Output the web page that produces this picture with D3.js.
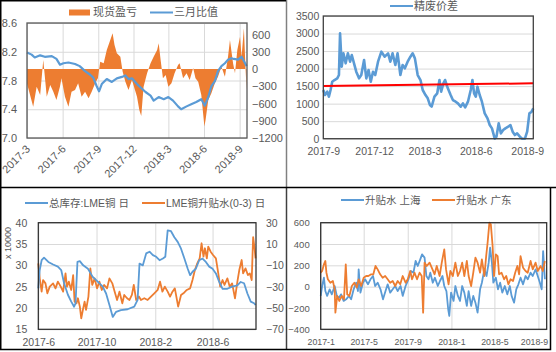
<!DOCTYPE html>
<html>
<head>
<meta charset="utf-8">
<script src="https://cdn.jsdelivr.net/npm/d3@7"></script>
<style>
body { margin: 0; background: #fff; }
svg text { font-family: "Liberation Sans", "Noto Sans CJK SC", sans-serif; fill: #595959; }
.axis path, .axis line { display: none; }
.grid path { display: none; }
.grid line { stroke: #d9d9d9; stroke-width: 1; }
</style>
</head>
<body>
<script>
var width = 556,
  height = 352;

var blue = "#5b9bd5",
  orange = "#ed7d31";

// ---- panel 1: 现货盈亏 / 三月比值
var p1Ticks = ["2017-3", "2017-6", "2017-9", "2017-12", "2018-3", "2018-6", "2018-9"];
var p1LeftTicks = [7.0, 7.4, 7.8, 8.2, 8.6];
var p1RightTicks = [-1200, -900, -600, -300, 0, 300, 600];
var p1Profit = [["2017-03-01",-250],["2017-03-17",-655],["2017-03-26",-307],["2017-04-04",-452],["2017-04-12",157],["2017-04-21",-481],["2017-04-30",-278],["2017-05-08",-394],["2017-05-16",-539],["2017-05-25",-307],["2017-05-29",-162],["2017-06-07",-481],["2017-06-16",-655],["2017-06-24",-394],["2017-07-03",-365],["2017-07-11",-249],["2017-07-20",-481],["2017-07-29",-394],["2017-08-07",-510],["2017-08-15",-394],["2017-08-24",-249],["2017-08-31",-162],["2017-09-06",128],["2017-09-15",99],["2017-09-23",330],["2017-10-02",504],["2017-10-08",620],["2017-10-13",418],["2017-10-19",273],["2017-10-28",215],["2017-11-03",-46],["2017-11-10",-220],["2017-11-18",-365],["2017-11-27",-191],["2017-12-10",-481],["2017-12-16",-713],["2017-12-21",-818],["2017-12-27",-307],["2018-01-05",-75],["2018-01-14",99],["2018-01-22",215],["2018-01-31",330],["2018-02-04",447],["2018-02-09",157],["2018-02-15",-162],["2018-02-22",-104],["2018-03-01",-307],["2018-03-09",-249],["2018-03-17",-75],["2018-03-26",70],["2018-03-30",99],["2018-04-08",-162],["2018-04-17",-75],["2018-04-25",-191],["2018-05-04",17],["2018-05-10",-162],["2018-05-17",-220],["2018-05-25",-452],["2018-06-02",-1000],["2018-06-05",-887],["2018-06-12",-539],["2018-06-20",-423],["2018-06-29",-249],["2018-07-07",-133],["2018-07-16",41],["2018-07-25",-133],["2018-08-02",215],["2018-08-07",504],["2018-08-11",302],["2018-08-15",99],["2018-08-20",-75],["2018-08-26",330],["2018-09-02",560],["2018-09-06",215],["2018-09-12",710],["2018-09-16",40],["2018-09-19",-365]];
var p1Ratio = [["2017-03-01",8.19],["2017-03-13",8.16],["2017-03-21",8.12],["2017-04-04",8.15],["2017-04-16",8.13],["2017-05-04",8.14],["2017-05-16",8.10],["2017-05-25",8.02],["2017-06-03",8.04],["2017-06-16",8.05],["2017-07-03",8.03],["2017-07-15",8.00],["2017-07-29",7.93],["2017-08-11",7.88],["2017-08-19",7.84],["2017-08-28",7.72],["2017-09-03",7.65],["2017-09-10",7.75],["2017-09-23",7.82],["2017-10-06",7.78],["2017-10-19",7.83],["2017-11-01",7.85],["2017-11-10",7.87],["2017-11-18",7.82],["2017-11-27",7.83],["2017-12-10",7.75],["2017-12-18",7.71],["2018-01-01",7.64],["2018-01-14",7.59],["2018-01-22",7.52],["2018-02-04",7.57],["2018-02-17",7.54],["2018-03-01",7.57],["2018-03-13",7.52],["2018-03-26",7.44],["2018-04-03",7.40],["2018-04-17",7.44],["2018-04-29",7.47],["2018-05-12",7.50],["2018-05-25",7.54],["2018-06-03",7.45],["2018-06-12",7.57],["2018-06-20",7.72],["2018-06-29",7.79],["2018-07-07",7.93],["2018-07-16",8.00],["2018-07-25",8.04],["2018-08-02",8.09],["2018-08-11",8.11],["2018-08-17",8.10],["2018-08-28",8.09],["2018-09-06",8.13],["2018-09-13",8.06],["2018-09-19",8.00]];

// ---- panel 2: 精废价差
var p2Ticks = ["2017-9", "2017-12", "2018-3", "2018-6", "2018-9"];
var p2YTicks = [0, 500, 1000, 1500, 2000, 2500, 3000, 3500];
var p2Spread = [["2017-09-01",1389],["2017-09-04",1246],["2017-09-08",1341],["2017-09-11",1198],["2017-09-14",1389],["2017-09-17",1626],["2017-09-21",1674],["2017-09-26",1721],["2017-09-29",1816],["2017-10-01",3005],["2017-10-04",2054],["2017-10-07",2435],["2017-10-11",2150],["2017-10-15",2435],["2017-10-19",2197],["2017-10-22",2387],["2017-10-26",2150],["2017-10-30",1911],["2017-11-04",1721],["2017-11-08",1816],["2017-11-13",2245],["2017-11-17",1721],["2017-11-21",1959],["2017-11-25",1626],["2017-11-29",1911],["2017-12-03",1816],["2017-12-08",2197],["2017-12-14",2482],["2017-12-20",2340],["2017-12-26",2435],["2017-12-30",2197],["2018-01-03",2435],["2018-01-08",2102],["2018-01-12",2435],["2018-01-17",1816],["2018-01-21",2102],["2018-01-25",2007],["2018-01-30",2197],["2018-02-04",2340],["2018-02-08",2435],["2018-02-12",2292],["2018-02-17",1816],["2018-02-22",1674],["2018-02-26",1389],["2018-03-03",1246],["2018-03-07",1151],["2018-03-11",960],["2018-03-14",913],["2018-03-19",1198],["2018-03-24",1294],["2018-03-28",1674],["2018-03-31",1341],["2018-04-04",1579],["2018-04-07",1674],["2018-04-12",1436],["2018-04-17",1246],["2018-04-21",1103],["2018-04-26",1056],["2018-04-30",1008],["2018-05-05",913],["2018-05-09",1008],["2018-05-13",894],["2018-05-18",1056],["2018-05-23",1389],["2018-05-26",1674],["2018-05-29",1294],["2018-06-01",1198],["2018-06-04",1484],["2018-06-08",1246],["2018-06-12",1056],["2018-06-17",723],["2018-06-22",580],["2018-06-26",390],["2018-06-30",295],["2018-07-05",0],["2018-07-08",57],["2018-07-12",437],["2018-07-16",152],["2018-07-20",247],["2018-07-24",295],["2018-07-29",342],["2018-08-02",390],["2018-08-06",200],["2018-08-10",105],["2018-08-14",152],["2018-08-19",57],["2018-08-23",0],["2018-08-28",0],["2018-09-01",200],["2018-09-05",723],["2018-09-09",770],["2018-09-12",865]];
var p2Trend = [["2017-09-01",1500],["2018-09-12",1580]];

// ---- panel 3: 总库存:LME铜 / LME铜升贴水(0-3)
var p3Ticks = ["2017-6", "2017-10", "2018-2", "2018-6"];
var p3LeftTicks = [15, 20, 25, 30, 35, 40];
var p3RightTicks = [-70, -50, -30, -10, 10, 30];
var p3Stock = [["2017-06-01",24.6],["2017-06-04",28.9],["2017-06-08",31.2],["2017-06-13",31.8],["2017-06-22",30.8],["2017-07-02",30.2],["2017-07-12",29.7],["2017-07-19",28.9],["2017-07-25",25.8],["2017-08-02",23.1],["2017-08-09",21.5],["2017-08-15",20.3],["2017-08-18",21.1],["2017-08-22",30.8],["2017-08-27",31.0],["2017-09-03",30.0],["2017-09-13",29.2],["2017-09-23",27.3],["2017-10-04",26.1],["2017-10-14",25.0],["2017-10-21",23.4],["2017-10-28",20.7],["2017-11-04",17.9],["2017-11-11",19.1],["2017-11-21",19.5],["2017-12-05",19.7],["2017-12-19",20.3],["2017-12-26",21.9],["2017-12-30",30.4],["2018-01-06",30.0],["2018-01-13",32.8],["2018-01-20",33.2],["2018-01-27",32.4],["2018-02-03",32.0],["2018-02-10",31.2],["2018-02-17",31.6],["2018-02-22",32.0],["2018-02-27",38.2],["2018-03-06",38.0],["2018-03-13",36.6],["2018-03-20",35.5],["2018-03-27",33.9],["2018-04-03",31.6],["2018-04-10",29.2],["2018-04-15",27.7],["2018-04-20",28.5],["2018-04-27",29.2],["2018-05-04",31.2],["2018-05-11",31.6],["2018-05-18",30.8],["2018-05-25",29.7],["2018-06-01",29.2],["2018-06-08",28.1],["2018-06-15",26.1],["2018-06-22",24.5],["2018-07-02",24.5],["2018-07-12",25.0],["2018-07-23",25.3],["2018-07-30",26.1],["2018-08-06",25.8],["2018-08-13",23.4],["2018-08-20",21.5],["2018-08-27",21.1],["2018-08-30",20.7]];
var p3Spread = [["2017-06-01",-8.1],["2017-06-04",-22.2],["2017-06-08",-34.7],["2017-06-11",-23.8],["2017-06-16",-26.9],["2017-06-20",-36.2],["2017-06-25",-30],["2017-07-02",-26.9],["2017-07-07",-31.6],["2017-07-12",-25.3],["2017-07-18",-30],["2017-07-23",-34.7],["2017-07-28",-17.5],["2017-07-31",-30],["2017-08-04",-25.3],["2017-08-09",-33.1],["2017-08-13",-19.1],["2017-08-16",-44],["2017-08-20",-45.6],["2017-08-23",-40.9],["2017-08-27",-48.7],["2017-08-30",-59.7],["2017-09-03",-50.3],["2017-09-06",-44],["2017-09-09",-51.8],["2017-09-14",-39.3],["2017-09-18",-12.8],["2017-09-22",-28.4],["2017-09-27",-22.2],["2017-10-02",-31.6],["2017-10-07",-25.3],["2017-10-12",-33.1],["2017-10-17",-28.4],["2017-10-23",-31.6],["2017-10-28",-22.2],["2017-11-03",-26.9],["2017-11-08",-34.7],["2017-11-13",-42.5],["2017-11-18",-34.7],["2017-11-24",-45.6],["2017-11-28",-37.8],["2017-12-04",-40.9],["2017-12-09",-42.5],["2017-12-14",-37.8],["2017-12-18",-28.4],["2017-12-23",-42.5],["2017-12-29",-39.3],["2018-01-02",-42.5],["2018-01-09",-40.9],["2018-01-16",-42.5],["2018-01-23",-39.3],["2018-01-30",-36.2],["2018-02-06",-33.1],["2018-02-11",-25.3],["2018-02-16",-34.7],["2018-02-21",-30],["2018-02-27",-34.7],["2018-03-04",-39.3],["2018-03-09",-34.7],["2018-03-14",-31.6],["2018-03-21",-48.7],["2018-03-27",-37.8],["2018-04-01",-36.2],["2018-04-08",-33.1],["2018-04-15",-31.6],["2018-04-20",-23.8],["2018-04-25",-14.4],["2018-04-30",-8.1],["2018-05-05",-3.4],["2018-05-09",10.7],["2018-05-13",-1.8],["2018-05-16",6],["2018-05-20",-3.4],["2018-05-23",7.5],["2018-05-28",2.8],["2018-06-02",-0.3],["2018-06-08",-3.4],["2018-06-13",-17.5],["2018-06-17",-30],["2018-06-22",-23.8],["2018-06-26",-28.4],["2018-07-02",-22.2],["2018-07-07",-30],["2018-07-12",-26.9],["2018-07-18",-40.9],["2018-07-23",-25.3],["2018-07-27",-14.4],["2018-08-01",-5],["2018-08-04",-17.5],["2018-08-09",-12.8],["2018-08-14",-19.1],["2018-08-18",-17.5],["2018-08-22",-23.8],["2018-08-25",16.4],["2018-08-28",6],["2018-08-30",-3.4]];

// ---- panel 4: 升贴水 上海 / 广东
var p4Ticks = ["2017-1", "2017-5", "2017-9", "2018-1", "2018-5", "2018-9"];
var p4YTicks = [-400, -200, 0, 200, 400, 600];
var p4Shanghai = [["2017-01-01",-87],["2017-01-05",6],["2017-01-10",84],["2017-01-14",-41],["2017-01-19",-87],["2017-01-26",-25],["2017-02-01",-72],["2017-02-09",6],["2017-02-15",-87],["2017-02-21",-103],["2017-02-27",-72],["2017-03-06",-134],["2017-03-13",-119],["2017-03-21",-87],["2017-03-27",-119],["2017-04-03",-25],["2017-04-10",37],["2017-04-15",-41],["2017-04-17",162],["2017-04-22",-56],["2017-04-29",37],["2017-05-05",69],["2017-05-13",22],["2017-05-20",69],["2017-05-27",100],["2017-06-02",6],["2017-06-09",37],["2017-06-17",-25],["2017-06-24",-119],["2017-07-01",-41],["2017-07-07",22],["2017-07-14",-56],["2017-07-21",-25],["2017-07-28",6],["2017-08-04",-41],["2017-08-12",6],["2017-08-18",-87],["2017-08-26",6],["2017-09-03",69],["2017-09-10",147],["2017-09-17",131],["2017-09-23",241],["2017-09-29",194],["2017-10-06",256],["2017-10-11",303],["2017-10-18",272],["2017-10-23",100],["2017-10-29",69],["2017-11-03",131],["2017-11-10",37],["2017-11-16",84],["2017-11-24",6],["2017-11-30",53],["2017-12-07",100],["2017-12-12",6],["2017-12-18",-41],["2017-12-23",-212],["2017-12-26",-275],["2017-12-31",-56],["2018-01-07",-134],["2018-01-12",6],["2018-01-19",-87],["2018-01-25",-134],["2018-01-31",6],["2018-02-06",-56],["2018-02-13",-181],["2018-02-18",-41],["2018-02-25",-181],["2018-03-03",-87],["2018-03-09",-150],["2018-03-15",-244],["2018-03-22",-25],["2018-03-27",37],["2018-04-03",162],["2018-04-09",100],["2018-04-15",225],["2018-04-19",366],["2018-04-24",225],["2018-04-28",37],["2018-05-05",84],["2018-05-11",-25],["2018-05-17",37],["2018-05-23",-56],["2018-05-30",6],["2018-06-06",-72],["2018-06-13",6],["2018-06-18",-87],["2018-06-25",-150],["2018-07-01",-25],["2018-07-07",22],["2018-07-13",84],["2018-07-20",22],["2018-07-27",100],["2018-08-02",69],["2018-08-10",131],["2018-08-16",100],["2018-08-24",162],["2018-08-30",100],["2018-09-05",37],["2018-09-10",-25],["2018-09-14",334],["2018-09-19",69]];
var p4Guangdong = [["2017-01-01",131],["2017-01-05",147],["2017-01-10",209],["2017-01-14",241],["2017-01-17",131],["2017-01-21",69],["2017-01-28",37],["2017-02-04",53],["2017-02-09",-25],["2017-02-11",-244],["2017-02-16",-87],["2017-02-22",-134],["2017-03-01",-87],["2017-03-07",-119],["2017-03-12",209],["2017-03-16",-72],["2017-03-22",-87],["2017-03-29",6],["2017-04-05",37],["2017-04-12",-9],["2017-04-17",69],["2017-04-24",6],["2017-05-01",84],["2017-05-08",100],["2017-05-14",100],["2017-05-22",116],["2017-05-28",116],["2017-06-03",194],["2017-06-09",162],["2017-06-16",116],["2017-06-23",84],["2017-06-30",100],["2017-07-07",69],["2017-07-14",37],["2017-07-21",53],["2017-07-28",6],["2017-08-04",53],["2017-08-11",22],["2017-08-18",100],["2017-08-26",37],["2017-09-01",69],["2017-09-08",147],["2017-09-13",69],["2017-09-20",131],["2017-09-27",69],["2017-10-04",131],["2017-10-10",100],["2017-10-14",-244],["2017-10-18",225],["2017-10-24",194],["2017-11-01",225],["2017-11-07",178],["2017-11-15",116],["2017-11-21",194],["2017-11-29",100],["2017-12-05",225],["2017-12-12",350],["2017-12-17",162],["2017-12-24",22],["2017-12-29",147],["2018-01-05",100],["2018-01-12",225],["2018-01-19",100],["2018-01-25",147],["2018-01-31",225],["2018-02-06",100],["2018-02-13",241],["2018-02-18",100],["2018-02-25",6],["2018-03-03",131],["2018-03-09",272],["2018-03-15",225],["2018-03-22",131],["2018-03-27",256],["2018-04-03",100],["2018-04-08",287],["2018-04-12",412],["2018-04-17",600],["2018-04-21",584],["2018-04-26",381],["2018-04-30",100],["2018-05-05",303],["2018-05-10",287],["2018-05-14",116],["2018-05-21",131],["2018-05-28",69],["2018-06-03",100],["2018-06-09",22],["2018-06-15",69],["2018-06-22",53],["2018-06-28",131],["2018-07-04",194],["2018-07-09",116],["2018-07-13",287],["2018-07-20",178],["2018-07-27",147],["2018-08-02",131],["2018-08-10",241],["2018-08-16",162],["2018-08-24",225],["2018-08-30",147],["2018-09-07",194],["2018-09-13",147],["2018-09-19",241]];

var parseDay = d3.timeParse("%Y-%m-%d"),
  parseMonth = d3.timeParse("%Y-%m"),
  fmtMonth = d3.timeFormat("%Y-%-m"),
  fmtInt = d3.format("d");

function rows(arr) {
  return arr.map(function(d) { return { date: parseDay(d[0]), v: d[1] }; });
}

function clipGroup(svg, id, x, y, w, h) {
  svg.append("clipPath").attr("id", id)
    .append("rect").attr("x", x).attr("y", y).attr("width", w).attr("height", h);
  return svg.append("g").attr("clip-path", "url(#" + id + ")");
}

function gridY(g, scale, ticks, x0, x1) {
  g.append("g").attr("class", "grid")
    .attr("transform", "translate(" + x0 + ",0)")
    .call(d3.axisLeft(scale).tickValues(ticks).tickSize(-(x1 - x0)).tickFormat(""));
}

function gridX(g, scale, ticks, y0, y1) {
  g.append("g").attr("class", "grid")
    .attr("transform", "translate(0," + y1 + ")")
    .call(d3.axisBottom(scale).tickValues(ticks).tickSize(-(y1 - y0)).tickFormat(""));
}

function legendLine(g, x, y, color, label, fs) {
  g.append("line").attr("x1", x).attr("x2", x + 23).attr("y1", y).attr("y2", y)
    .style("stroke", color).style("stroke-width", 2);
  g.append("text").attr("x", x + 24).attr("y", y).attr("dy", "0.36em")
    .style("font-size", fs + "px").text(label);
}

function lineOf(x, y) {
  return d3.line().x(function(d) { return x(d.date); }).y(function(d) { return y(d.v); });
}

function drawPanel1(svg) {
  var g = clipGroup(svg, "c1", 0, 0, 286, 187);
  var L = 27, R = 247, T = 23, B = 138;
  var x = d3.scaleTime().domain([parseDay("2017-03-01"), parseDay("2018-09-20")]).range([L, R]);
  var yL = d3.scaleLinear().domain([7.0, 8.6]).range([B, T]);
  var yR = d3.scaleLinear().domain([-1200, 800]).range([B, T]);
  var ticks = p1Ticks.map(parseMonth);

  gridY(g, yL, p1LeftTicks, L, R);
  gridX(g, x, ticks, T, B);

  var area = d3.area()
    .x(function(d) { return x(d.date); })
    .y0(yR(0))
    .y1(function(d) { return yR(d.v); });
  g.append("path").datum(rows(p1Profit)).attr("d", area).style("fill", orange);

  g.append("path").datum(rows(p1Ratio)).attr("d", lineOf(x, yL))
    .style("fill", "none").style("stroke", blue).style("stroke-width", 2.2)
    .style("stroke-linejoin", "round");

  g.append("rect").attr("x", L).attr("y", T).attr("width", R - L).attr("height", B - T)
    .style("fill", "none").style("stroke", "#595959").style("stroke-width", 1.3);

  g.append("g").attr("class", "axis").attr("transform", "translate(" + L + ",0)")
    .call(d3.axisLeft(yL).tickValues(p1LeftTicks).tickSize(0).tickPadding(10).tickFormat(d3.format(".1f")))
    .selectAll("text").style("font-size", "11px");
  g.append("g").attr("class", "axis").attr("transform", "translate(" + R + ",0)")
    .call(d3.axisRight(yR).tickValues(p1RightTicks).tickSize(0).tickPadding(5).tickFormat(fmtInt))
    .selectAll("text").style("font-size", "11px");

  g.append("g").attr("class", "axis").attr("transform", "translate(0," + (B + 4) + ")")
    .call(d3.axisBottom(x).tickValues(ticks).tickSize(0).tickFormat(fmtMonth))
    .selectAll("text")
    .attr("x", -3).attr("y", 4).attr("dy", "0.35em")
    .attr("text-anchor", "end")
    .attr("transform", "rotate(-45)")
    .style("font-size", "11px");

  // legend
  g.append("rect").attr("x", 69).attr("y", 9.5).attr("width", 21).attr("height", 6).style("fill", orange);
  g.append("text").attr("x", 93).attr("y", 12.5).attr("dy", "0.36em").style("font-size", "11px").text("现货盈亏");
  legendLine(g, 150, 12.5, blue, "三月比值", 11);
}

function drawPanel2(svg) {
  var g = clipGroup(svg, "c2", 287, 0, 269, 187);
  var L = 323.3, R = 533.3, T = 16, B = 138.7;
  var x = d3.scaleTime().domain([parseDay("2017-09-01"), parseDay("2018-09-12")]).range([L, R]);
  var y = d3.scaleLinear().domain([0, 3500]).range([B, T]);
  var ticks = p2Ticks.map(parseMonth);

  gridY(g, y, p2YTicks, L, R);

  g.append("path").datum(rows(p2Spread)).attr("d", lineOf(x, y))
    .style("fill", "none").style("stroke", blue).style("stroke-width", 2.6)
    .style("stroke-linejoin", "round");
  g.append("path").datum(rows(p2Trend)).attr("d", lineOf(x, y))
    .style("fill", "none").style("stroke", "#ff0000").style("stroke-width", 2);

  g.append("rect").attr("x", L).attr("y", T).attr("width", R - L).attr("height", B - T)
    .style("fill", "none").style("stroke", "#404040").style("stroke-width", 1.3);

  g.append("g").attr("class", "axis").attr("transform", "translate(" + L + ",0)")
    .call(d3.axisLeft(y).tickValues(p2YTicks).tickSize(0).tickPadding(4).tickFormat(fmtInt))
    .selectAll("text").style("font-size", "10.5px");
  g.append("g").attr("class", "axis").attr("transform", "translate(0," + B + ")")
    .call(d3.axisBottom(x).tickValues(ticks).tickSize(0).tickPadding(9).tickFormat(fmtMonth))
    .selectAll("text").style("font-size", "10.5px");

  legendLine(g, 390, 6, blue, "精废价差", 11);
}

function drawPanel3(svg) {
  var g = clipGroup(svg, "c3", 0, 188, 286, 161);
  var L = 38.3, R = 256, T = 222.7, B = 329.3;
  var x = d3.scaleTime().domain([parseDay("2017-06-01"), parseDay("2018-08-31")]).range([L, R]);
  var yL = d3.scaleLinear().domain([15, 40]).range([B, T]);
  var yR = d3.scaleLinear().domain([-70, 30]).range([B, T]);
  var ticks = p3Ticks.map(parseMonth);

  gridY(g, yL, p3LeftTicks, L, R);
  gridX(g, x, ticks, T, B);

  g.append("path").datum(rows(p3Spread)).attr("d", lineOf(x, yR))
    .style("fill", "none").style("stroke", orange).style("stroke-width", 1.8)
    .style("stroke-linejoin", "round");
  g.append("path").datum(rows(p3Stock)).attr("d", lineOf(x, yL))
    .style("fill", "none").style("stroke", blue).style("stroke-width", 1.8)
    .style("stroke-linejoin", "round");

  g.append("rect").attr("x", L).attr("y", T).attr("width", R - L).attr("height", B - T)
    .style("fill", "none").style("stroke", "#262626").style("stroke-width", 1.2);

  g.append("g").attr("class", "axis").attr("transform", "translate(" + L + ",0)")
    .call(d3.axisLeft(yL).tickValues(p3LeftTicks).tickSize(0).tickPadding(11).tickFormat(fmtInt))
    .selectAll("text").style("font-size", "10.5px");
  g.append("g").attr("class", "axis").attr("transform", "translate(" + R + ",0)")
    .call(d3.axisRight(yR).tickValues(p3RightTicks).tickSize(0).tickPadding(10).tickFormat(fmtInt))
    .selectAll("text").style("font-size", "10.5px");
  g.append("g").attr("class", "axis").attr("transform", "translate(0," + B + ")")
    .call(d3.axisBottom(x).tickValues(ticks).tickSize(0).tickPadding(9).tickFormat(fmtMonth))
    .selectAll("text").style("font-size", "10.5px");

  g.append("text").attr("transform", "translate(8,243) rotate(-90)")
    .attr("text-anchor", "middle").attr("dy", "0.35em")
    .style("font-size", "9px").text("x 10000");

  legendLine(g, 25, 203, blue, "总库存:LME铜 日", 10.5);
  legendLine(g, 142, 203, orange, "LME铜升贴水(0-3) 日", 10.5);
}

function drawPanel4(svg) {
  var g = clipGroup(svg, "c4", 287, 188, 263, 161);
  var L = 320.7, R = 546.7, T = 222.7, B = 329.3;
  var x = d3.scaleTime().domain([parseDay("2017-01-01"), parseDay("2018-09-24")]).range([L, R]);
  var y = d3.scaleLinear().domain([-400, 600]).range([B, T]);
  var ticks = p4Ticks.map(parseMonth);

  gridY(g, y, p4YTicks, L, R);
  gridX(g, x, ticks, T, B);

  g.append("path").datum(rows(p4Shanghai)).attr("d", lineOf(x, y))
    .style("fill", "none").style("stroke", blue).style("stroke-width", 1.8)
    .style("stroke-linejoin", "round");
  g.append("path").datum(rows(p4Guangdong)).attr("d", lineOf(x, y))
    .style("fill", "none").style("stroke", orange).style("stroke-width", 1.8)
    .style("stroke-linejoin", "round");

  g.append("rect").attr("x", L).attr("y", T).attr("width", R - L).attr("height", B - T)
    .style("fill", "none").style("stroke", "#262626").style("stroke-width", 1.2);

  g.append("g").attr("class", "axis").attr("transform", "translate(" + L + ",0)")
    .call(d3.axisLeft(y).tickValues(p4YTicks).tickSize(0).tickPadding(11).tickFormat(fmtInt))
    .selectAll("text").style("font-size", "9.5px");
  var last = ticks.length - 1;
  g.append("g").attr("class", "axis").attr("transform", "translate(0," + B + ")")
    .call(d3.axisBottom(x).tickValues(ticks).tickSize(0).tickPadding(9).tickFormat(fmtMonth))
    .selectAll("text")
    .attr("dx", function(d, i) { return i === last ? -4.5 : 0; })
    .style("font-size", "8.8px");

  legendLine(g, 341, 200, blue, "升贴水 上海", 10.5);
  legendLine(g, 432, 200, orange, "升贴水 广东", 10.5);
}

function drawFrame(svg) {
  var f = svg.append("g").style("fill", "none");
  f.append("line").attr("x1", 286.5).attr("x2", 286.5).attr("y1", 0).attr("y2", 188)
    .style("stroke", "#808080").style("stroke-width", 1.5);
  f.append("line").attr("x1", 286.5).attr("x2", 286.5).attr("y1", 188).attr("y2", 350)
    .style("stroke", "#404040").style("stroke-width", 1.5);
  f.append("line").attr("x1", 0).attr("x2", width).attr("y1", 187.5).attr("y2", 187.5)
    .style("stroke", "#000").style("stroke-width", 1.5);
  f.append("path").attr("d", "M286,0.75H0.75V349.5H550.5V187.5")
    .style("stroke", "#000").style("stroke-width", 1.5);
}

function loadChart() {
  var svg = d3.select("body").append("svg")
    .attr("width", width)
    .attr("height", height);
  svg.append("rect").attr("width", width).attr("height", height).style("fill", "#fff");
  drawPanel1(svg);
  drawPanel2(svg);
  drawPanel3(svg);
  drawPanel4(svg);
  drawFrame(svg);
}

loadChart();
</script>
</body>
</html>
